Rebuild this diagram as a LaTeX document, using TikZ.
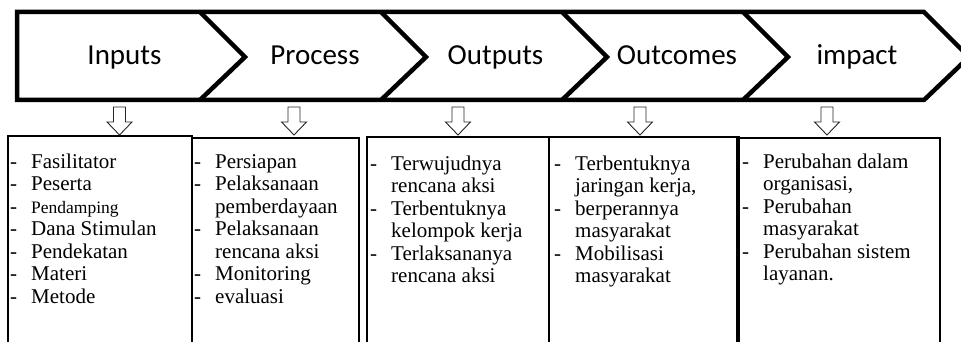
\documentclass[tikz,border=0pt]{standalone}
\usepackage{fontspec}
\setmainfont{Liberation Serif}
\newfontfamily\hdfont{Carlito}
\newcommand\itm[1]{\makebox[21pt][l]{-}#1}
\newcommand\cnt[1]{\hspace*{21pt}#1}
\begin{document}
\begin{tikzpicture}[x=1pt,y=-1pt,
  chev/.style={line width=4.5pt, line join=miter},
  boxst/.style={draw, line width=1.6pt, inner sep=0pt, anchor=north west},
  hd/.style={font=\hdfont\fontsize{29}{30}\selectfont, anchor=base, inner sep=0pt},
  lst/.style={font=\fontsize{21}{22.5}\selectfont, anchor=base west, inner sep=0pt},
  darr/.style={draw=black!85, line width=0.9pt, fill=white}]
\useasboundingbox (0,0) rectangle (961,342);
\clip (0,0) rectangle (961,342);
% chevron band
\draw[chev] (17,12) -- (924,12) -- (969,57) -- (924,100) -- (17,100) -- cycle;
\foreach \k in {0,1,2,3} {
  \draw[chev] (200+181*\k,12) -- (245+181*\k,57) -- (200+181*\k,100);
}
\node[hd] (h1) at (124.5,65) {Inputs};
\node[hd] (h2) at (315,65) {Process};
\node[hd] (h3) at (495.5,65) {Outputs};
\node[hd] (h4) at (677,65) {Outcomes};
\node[hd] (h5) at (857,65) {impact};
% boxes
\node[boxst, minimum width=184, minimum height=225] (b1) at (7,135) {};
\node[boxst, minimum width=167, minimum height=223] (b2) at (191,137) {};
\node[boxst, minimum width=182, minimum height=224] (b3) at (366,136) {};
\node[boxst, minimum width=190, minimum height=224] (b4) at (548,136) {};
\node[boxst, minimum width=203, minimum height=223] (b5) at (736,137) {};
% down arrows
\foreach \cx in {119.5,294,458,640,827} {
  \draw[darr] (\cx-6,107) -- (\cx+6,107) -- (\cx+6,122) -- (\cx+12.5,122) -- (\cx,135)
    -- (\cx-12.5,122) -- (\cx-6,122) -- cycle;
}
% texts
\node[lst] (t1) at (10,168) {\begin{tabular}[t]{@{}l@{}}
\itm{Fasilitator}\\
\itm{Peserta}\\
\itm{\fontsize{17.5}{22.5}\selectfont Pendamping}\\
\itm{Dana Stimulan}\\
\itm{Pendekatan}\\
\itm{Materi}\\
\itm{Metode}
\end{tabular}};
\node[lst] (t2) at (194,168) {\begin{tabular}[t]{@{}l@{}}
\itm{Persiapan}\\
\itm{Pelaksanaan}\\
\cnt{pemberdayaan}\\
\itm{Pelaksanaan}\\
\cnt{rencana aksi}\\
\itm{Monitoring}\\
\itm{evaluasi}
\end{tabular}};
\node[lst] (t3) at (370,170) {\begin{tabular}[t]{@{}l@{}}
\itm{Terwujudnya}\\
\cnt{rencana aksi}\\
\itm{Terbentuknya}\\
\cnt{kelompok kerja}\\
\itm{Terlaksananya}\\
\cnt{rencana aksi}
\end{tabular}};
\node[lst] (t4) at (554,170) {\begin{tabular}[t]{@{}l@{}}
\itm{Terbentuknya}\\
\cnt{jaringan kerja,}\\
\itm{berperannya}\\
\cnt{masyarakat}\\
\itm{Mobilisasi}\\
\cnt{masyarakat}
\end{tabular}};
\node[lst] (t5) at (742,168) {\begin{tabular}[t]{@{}l@{}}
\itm{Perubahan dalam}\\
\cnt{organisasi,}\\
\itm{Perubahan}\\
\cnt{masyarakat}\\
\itm{Perubahan sistem}\\
\cnt{layanan.}
\end{tabular}};
\end{tikzpicture}
\end{document}
